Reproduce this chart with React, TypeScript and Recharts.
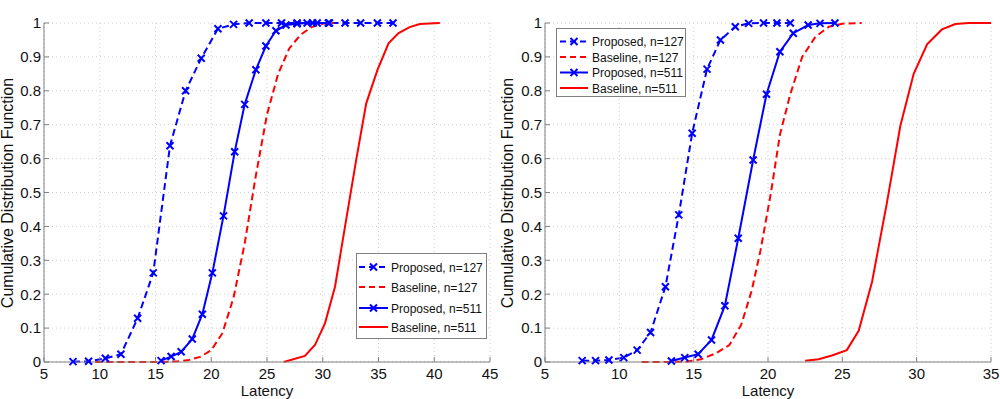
import React from 'react';
import { LineChart, Line, XAxis, YAxis, CartesianGrid, Legend } from 'recharts';

const FONT = '"Liberation Sans", Arial, Helvetica, sans-serif';
const BLUE = '#0000ff';
const RED = '#ff0000';
const AXIS = '#808080';

const yTicks = [0, 0.1, 0.2, 0.3, 0.4, 0.5, 0.6, 0.7, 0.8, 0.9, 1];
const xTicksM10 = [5, 10, 15, 20, 25, 30, 35, 40, 45];
const xTicksM30 = [5, 10, 15, 20, 25, 30, 35];

// m=10
const prop127LatM10 = [7.6, 9.0, 10.5, 11.9, 13.4, 14.8, 16.3, 17.7, 19.1, 20.6, 22.0, 23.4, 24.9, 26.3, 27.7, 29.1, 30.6, 32.0, 33.4, 34.9, 36.3];
const prop127CdfM10 = [0.001, 0.002, 0.011, 0.023, 0.129, 0.263, 0.638, 0.8, 0.896, 0.983, 0.996, 1, 1, 1, 1, 1, 1, 1, 1, 1, 1];
const base127LatM10 = [9.6, 11, 12.5, 14, 15.5, 17, 18, 19, 20, 21, 22, 23, 24, 25, 26, 27, 28, 29, 30, 31];
const base127CdfM10 = [0, 0, 0, 0, 0, 0.002, 0.006, 0.015, 0.035, 0.085, 0.19, 0.35, 0.55, 0.73, 0.85, 0.925, 0.965, 0.988, 0.998, 1];
const prop511LatM10 = [15.5, 16.4, 17.3, 18.3, 19.2, 20.1, 21.1, 22.1, 23.0, 24.0, 24.9, 25.8, 26.7, 27.7, 28.6, 29.5, 30.5];
const prop511CdfM10 = [0.004, 0.016, 0.03, 0.068, 0.141, 0.263, 0.431, 0.62, 0.76, 0.862, 0.932, 0.977, 0.994, 0.998, 1, 1, 1];
const base511LatM10 = [26.5, 28.4, 29.3, 30.2, 31.1, 32.0, 33.0, 33.9, 34.9, 35.9, 36.8, 37.8, 38.7, 40.5];
const base511CdfM10 = [0, 0.018, 0.05, 0.114, 0.222, 0.4, 0.596, 0.763, 0.861, 0.94, 0.97, 0.988, 0.997, 1];

// m=30
const prop127LatM30 = [7.5, 8.4, 9.3, 10.3, 11.2, 12.1, 13.1, 14.0, 14.9, 15.9, 16.8, 17.8, 18.7, 19.7, 20.6, 21.5];
const prop127CdfM30 = [0.004, 0.004, 0.006, 0.013, 0.035, 0.087, 0.222, 0.434, 0.675, 0.864, 0.95, 0.989, 0.999, 1, 1, 1];
const base127LatM30 = [11.5, 13, 14.5, 15.5, 16.5, 17.4, 18.2, 18.9, 19.5, 20.2, 20.8, 21.5, 22.3, 23.2, 24.1, 25, 26.3];
const base127CdfM30 = [0, 0, 0.001, 0.008, 0.026, 0.05, 0.11, 0.21, 0.33, 0.5, 0.67, 0.79, 0.9, 0.96, 0.989, 0.998, 1];
const prop511LatM30 = [13.5, 14.4, 15.3, 16.2, 17.1, 18.0, 19.0, 19.9, 20.8, 21.7, 22.7, 23.5, 24.5];
const prop511CdfM30 = [0.003, 0.013, 0.023, 0.065, 0.166, 0.365, 0.596, 0.79, 0.915, 0.97, 0.994, 0.999, 1];
const base511LatM30 = [22.5, 23.4, 24.3, 25.3, 26.1, 27.0, 28.0, 28.9, 29.8, 30.7, 31.7, 32.6, 33.5, 35];
const base511CdfM30 = [0.004, 0.008, 0.019, 0.035, 0.092, 0.237, 0.47, 0.696, 0.85, 0.937, 0.981, 0.997, 1, 1];

const seriesNames = ['Proposed, n=127', 'Baseline, n=127', 'Proposed, n=511', 'Baseline, n=511'];

const zip = (lat: number[], cdf: number[]) => lat.map((x, i) => ({ x, y: cdf[i] }));

type Series = { name: string; data: { x: number; y: number }[]; color: string; dashed: boolean; marker: boolean };

const makeSeries = (sets: [number[], number[]][]): Series[] =>
  sets.map(([lat, cdf], i) => ({
    name: seriesNames[i],
    data: zip(lat, cdf),
    color: i % 2 === 0 ? BLUE : RED,
    dashed: i < 2,
    marker: i % 2 === 0,
  }));

const seriesM10 = makeSeries([
  [prop127LatM10, prop127CdfM10],
  [base127LatM10, base127CdfM10],
  [prop511LatM10, prop511CdfM10],
  [base511LatM10, base511CdfM10],
]);
const seriesM30 = makeSeries([
  [prop127LatM30, prop127CdfM30],
  [base127LatM30, base127CdfM30],
  [prop511LatM30, prop511CdfM30],
  [base511LatM30, base511CdfM30],
]);

const DASH = '7 4';

const CrossDot = (props: any) => {
  const { cx, cy, stroke } = props;
  if (cx == null || cy == null) return null;
  const r = 3.5;
  return (
    <path
      d={`M${cx - r},${cy - r}L${cx + r},${cy + r}M${cx - r},${cy + r}L${cx + r},${cy - r}`}
      stroke={stroke}
      strokeWidth={2}
      fill="none"
    />
  );
};

type LegendSpec = { left: number; top: number; width: number; height: number; rows: number[]; x0: number; x1: number; tx: number };

const LegendBox = ({ spec, series }: { spec: LegendSpec; series: Series[] }) => (
  <svg width={spec.width} height={spec.height} style={{ display: 'block' }}>
    <rect x={0.5} y={0.5} width={spec.width - 1} height={spec.height - 1} fill="#fff" stroke={AXIS} />
    {series.map((s, i) => {
      const y = spec.rows[i];
      const mx = (spec.x0 + spec.x1) / 2;
      return (
        <g key={s.name}>
          <line x1={spec.x0} x2={spec.x1} y1={y} y2={y} stroke={s.color} strokeWidth={2} strokeDasharray={s.dashed ? '6 4' : undefined} />
          {s.marker && <CrossDot cx={mx} cy={y} stroke={s.color} />}
          <text x={spec.tx} y={y + 4.5} fontSize={12} fontFamily={FONT} fill="#111">
            {s.name}
          </text>
        </g>
      );
    })}
  </svg>
);

type PanelProps = {
  title: string;
  xTicks: number[];
  series: Series[];
  legend: LegendSpec;
  marginLeft: number;
  marginRight: number;
};

const W = 500;
const H = 399;

function Panel({ title, xTicks, series, legend, marginLeft, marginRight }: PanelProps) {
  const plotLeft = marginLeft + 30;
  const plotRight = W - marginRight;
  const cx = (plotLeft + plotRight) / 2;
  const xMax = xTicks[xTicks.length - 1];
  return (
    <LineChart width={W} height={H} margin={{ top: 23, right: marginRight, bottom: 7, left: marginLeft }}>
      <CartesianGrid stroke="#cfcfcf" strokeDasharray="1 3" />
      <XAxis
        type="number"
        dataKey="x"
        domain={[5, xMax]}
        ticks={xTicks}
        interval={0}
        allowDataOverflow
        height={30}
        stroke={AXIS}
        tickSize={-5}
        tickMargin={11}
        tick={{ fill: '#111', fontSize: 15, fontFamily: FONT }}
        label={{
          content: () => (
            <text x={cx} y={396} textAnchor="middle" fontSize={15} fontFamily={FONT} fill="#111">
              Latency
            </text>
          ),
        }}
      />
      <XAxis
        xAxisId="top"
        orientation="top"
        type="number"
        domain={[5, xMax]}
        ticks={xTicks}
        interval={0}
        allowDataOverflow
        height={0}
        stroke={AXIS}
        tickSize={-5}
        tick={false}
        label={{
          content: () => (
            <text x={cx} y={13} textAnchor="middle" fontSize={15} fontFamily={FONT} fill="#111">
              {title}
            </text>
          ),
        }}
      />
      <YAxis
        type="number"
        domain={[0, 1]}
        ticks={yTicks}
        interval={0}
        width={30}
        stroke={AXIS}
        tickSize={-5}
        tickMargin={8}
        tick={{ fill: '#111', fontSize: 15, fontFamily: FONT }}
        tickFormatter={(v: number) => (v === 0 || v === 1 ? String(v) : v.toFixed(1))}
        label={{
          content: () => (
            <text
              x={12.5}
              y={193}
              transform="rotate(-90 12.5 193)"
              textAnchor="middle"
              fontSize={16}
              fontFamily={FONT}
              fill="#111"
            >
              Cumulative Distribution Function
            </text>
          ),
        }}
      />
      <YAxis
        yAxisId="right"
        orientation="right"
        type="number"
        domain={[0, 1]}
        ticks={yTicks}
        interval={0}
        width={0}
        stroke={AXIS}
        tickSize={-5}
        tick={false}
      />
      {series.map((s) => (
        <Line
          key={s.name}
          data={s.data}
          dataKey="y"
          name={s.name}
          type="linear"
          stroke={s.color}
          strokeWidth={2}
          strokeDasharray={s.dashed ? DASH : undefined}
          dot={s.marker ? CrossDot : false}
          activeDot={false}
          isAnimationActive={false}
        />
      ))}
      <Legend
        layout="horizontal"
        verticalAlign="middle"
        align="center"
        wrapperStyle={{ left: legend.left, top: legend.top, width: legend.width, height: legend.height }}
        content={() => <LegendBox spec={legend} series={series} />}
      />
    </LineChart>
  );
}

const legendM10: LegendSpec = { left: 356, top: 253, width: 131, height: 86, rows: [14, 34, 55, 74], x0: 3, x1: 32, tx: 35 };
const legendM30: LegendSpec = { left: 56, top: 28, width: 130, height: 69, rows: [13.5, 29, 44.5, 60], x0: 4, x1: 32, tx: 36 };

export default function App() {
  return (
    <div style={{ position: 'absolute', left: 0, top: 0, width: 1000, height: 399, background: '#fff', display: 'flex' }}>
      <Panel title="m=10" xTicks={xTicksM10} series={seriesM10} legend={legendM10} marginLeft={14} marginRight={10} />
      <Panel title="m=30" xTicks={xTicksM30} series={seriesM30} legend={legendM30} marginLeft={15} marginRight={9} />
    </div>
  );
}
